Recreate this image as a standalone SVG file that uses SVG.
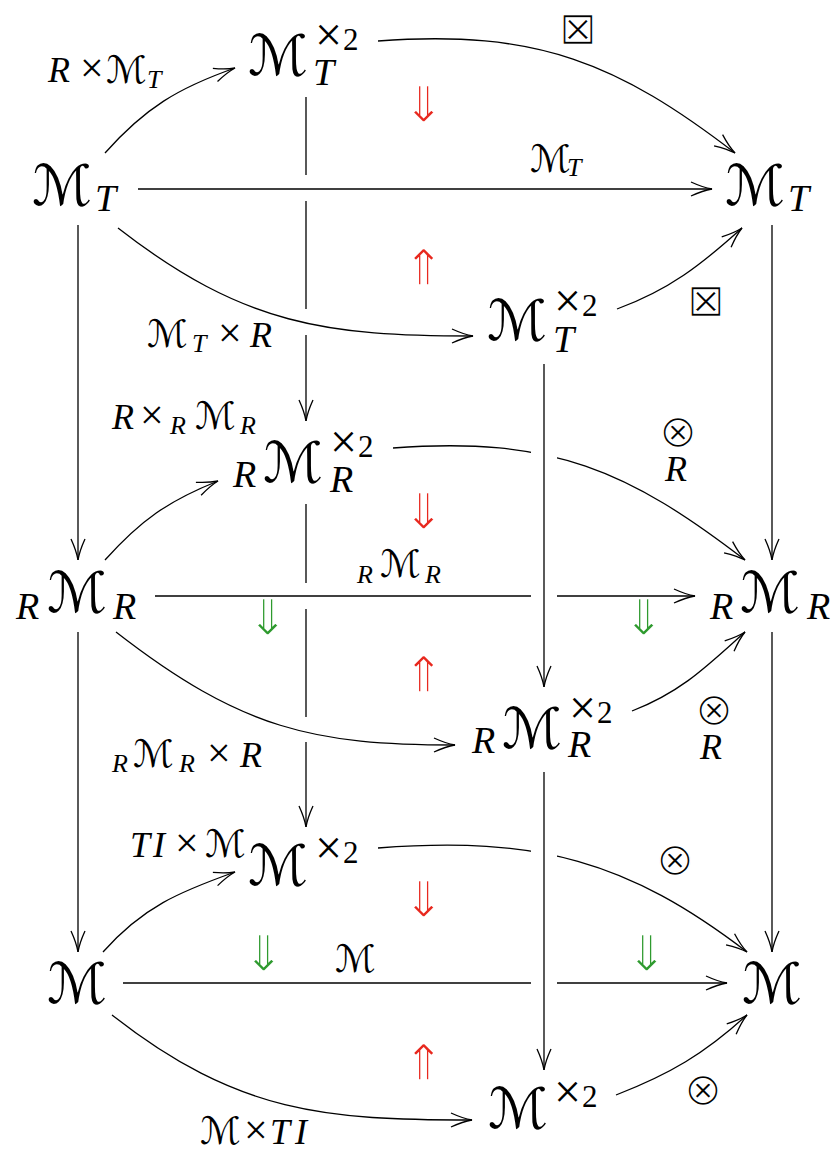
<svg xmlns="http://www.w3.org/2000/svg" width="838" height="1152" viewBox="0 0 838 1152">
<style>
.m{font-family:"DejaVu Sans",sans-serif;font-size:56px;fill:#000}
.ml{font-family:"DejaVu Sans",sans-serif;font-size:38px;fill:#000}
.i{font-family:"Liberation Serif",serif;font-style:italic;font-size:38px;fill:#000}
.il{font-family:"Liberation Serif",serif;font-style:italic;font-size:36px;fill:#000}
.s{font-family:"Liberation Serif",serif;font-style:italic;font-size:26px;fill:#000}
.x{font-family:"Liberation Serif",serif;font-size:42px;fill:#000}
.xs{font-family:"Liberation Serif",serif;font-size:48px;fill:#000}
.two{font-family:"Liberation Serif",serif;font-size:31px;fill:#000}
.op{font-family:"DejaVu Sans",sans-serif;font-size:46px;fill:#000;stroke:#fff;stroke-width:1.6;text-anchor:middle}
.red{font-family:"DejaVu Sans",sans-serif;font-size:50px;fill:#e8281e;stroke:#fff;stroke-width:1.6;text-anchor:middle}
.grn{font-family:"DejaVu Sans",sans-serif;font-size:50px;fill:#2e9a2e;stroke:#fff;stroke-width:1.6;text-anchor:middle}
.c{fill:none;stroke:#000;stroke-width:1.3}
.a{marker-end:url(#arr)}
</style>
<defs>
<marker id="arr" markerUnits="userSpaceOnUse" markerWidth="30" markerHeight="20" viewBox="-25 -10 30 20" refX="0" refY="0" orient="auto">
<path d="M-21,-7 Q-9,-1.5 0,0 Q-9,1.5 -21,7" fill="none" stroke="#000" stroke-width="1.3"/>
</marker>
<mask id="gap" maskUnits="userSpaceOnUse" x="0" y="0" width="838" height="1152">
<rect x="0" y="0" width="838" height="1152" fill="#fff"/>
<rect x="531" y="435" width="26" height="45" fill="#000"/>
<rect x="531" y="835" width="26" height="45" fill="#000"/>
</mask>
</defs>

<g id="connectors">
<path class="c a" d="M138,189 H712"/>
<path class="c" d="M155,596 H531"/>
<path class="c a" d="M557,596 H695"/>
<path class="c" d="M123,983 H531"/>
<path class="c a" d="M557,983 H727"/>
<path class="c a" d="M78,225 V560"/>
<path class="c a" d="M78,632 V952"/>
<path class="c a" d="M772,225 V560"/>
<path class="c a" d="M772,632 V952"/>
<path class="c" d="M306,97 V175 M306,201 V309"/>
<path class="c a" d="M306,335 V421"/>
<path class="c" d="M306,504 V583 M306,609 V717"/>
<path class="c a" d="M306,742 V827"/>
<path class="c a" d="M105,153 C145,108 178,88 235,68"/>
<path class="c a" d="M378,41 C538,29 619,64 735,153"/>
<path class="c a" d="M118,228 C244,326 328,336 473,336"/>
<path class="c a" d="M617,309 C669,290 701,265 742,228"/>
<path class="c a" d="M105,560 C141,520 168,501 218,481"/>
<path class="c a" d="M393,448 C553,436 629,471 745,560" mask="url(#gap)"/>
<path class="c a" d="M116,632 C242,730 315,745 455,745"/>
<path class="c a" d="M632,711 C681,692 706,667 745,632"/>
<path class="c a" d="M103,952 C143,907 179,892 235,872"/>
<path class="c a" d="M378,848 C538,836 628,861 747,952" mask="url(#gap)"/>
<path class="c a" d="M112,1015 C238,1114 327,1120 472,1120"/>
<path class="c a" d="M616,1095 C670,1074 704,1054 747,1015"/>
<path class="c a" d="M544,364 V687"/>
<path class="c a" d="M544,772 V1070"/>
</g>

<g id="labels">
<text><tspan class="il" x="48" y="82">R</tspan><tspan class="x" x="80" y="82">×</tspan><tspan class="ml" x="106" y="83">ℳ</tspan><tspan class="s" x="147" y="88">T</tspan></text>
<text><tspan class="ml" x="530" y="172">ℳ</tspan><tspan class="s" x="567" y="176">T</tspan></text>
<text class="op" x="578" y="44">⊠</text>
<text><tspan class="ml" x="147" y="347">ℳ</tspan><tspan class="s" x="192" y="352">T</tspan><tspan class="x" x="218" y="347">×</tspan><tspan class="il" x="250" y="347">R</tspan></text>
<text class="op" x="706" y="316">⊠</text>
<text><tspan class="il" x="112" y="429">R</tspan><tspan class="x" x="140" y="429">×</tspan><tspan class="s" x="170" y="434">R</tspan><tspan class="ml" x="195" y="429">ℳ</tspan><tspan class="s" x="240" y="434">R</tspan></text>
<text class="op" x="678" y="447">⊗</text>
<text class="il" x="665" y="481">R</text>
<text><tspan class="s" x="357" y="583">R</tspan><tspan class="ml" x="380" y="577">ℳ</tspan><tspan class="s" x="425" y="583">R</tspan></text>
<text><tspan class="s" x="112" y="772">R</tspan><tspan class="ml" x="133" y="767">ℳ</tspan><tspan class="s" x="179" y="772">R</tspan><tspan class="x" x="207" y="767">×</tspan><tspan class="il" x="240" y="767">R</tspan></text>
<text class="op" x="714" y="725">⊗</text>
<text class="il" x="700" y="759">R</text>
<text><tspan class="il" x="130" y="857">T</tspan><tspan class="il" x="153" y="857">I</tspan><tspan class="x" x="175" y="857">×</tspan><tspan class="ml" x="205" y="857">ℳ</tspan></text>
<text class="ml" x="335" y="972">ℳ</text>
<text class="op" x="675" y="875">⊗</text>
<text class="op" x="703" y="1105">⊗</text>
<text><tspan class="ml" x="200" y="1144">ℳ</tspan><tspan class="x" x="244" y="1144">×</tspan><tspan class="il" x="270" y="1144">T</tspan><tspan class="il" x="295" y="1144">I</tspan></text>
</g>

<g id="cells">
<text class="red" x="424" y="122">⇓</text>
<text class="red" x="424" y="285">⇑</text>
<text class="red" x="424" y="529">⇓</text>
<text class="red" x="424" y="692">⇑</text>
<text class="red" x="424" y="917">⇓</text>
<text class="red" x="424" y="1080">⇑</text>
<text class="grn" x="268" y="635">⇓</text>
<text class="grn" x="644" y="635">⇓</text>
<text class="grn" x="264" y="971">⇓</text>
<text class="grn" x="647" y="971">⇓</text>
</g>

<g id="n_MT_left"><text><tspan class="m" x="32" y="205">ℳ</tspan><tspan class="i" x="95" y="211">T</tspan></text></g>
<g id="n_MT2_top"><text><tspan class="m" x="248" y="75">ℳ</tspan><tspan class="xs" x="315" y="51">×</tspan><tspan class="two" x="343" y="50">2</tspan><tspan class="i" x="313" y="85">T</tspan></text></g>
<g id="n_MT_right"><text><tspan class="m" x="725" y="205">ℳ</tspan><tspan class="i" x="788" y="211">T</tspan></text></g>
<g id="n_MT2_bottom"><text><tspan class="m" x="487" y="340">ℳ</tspan><tspan class="xs" x="554" y="317">×</tspan><tspan class="two" x="582" y="316">2</tspan><tspan class="i" x="553" y="352">T</tspan></text></g>

<g id="n_RMR_left"><text><tspan class="i" x="16" y="619">R</tspan><tspan class="m" x="47" y="612">ℳ</tspan><tspan class="i" x="113" y="619">R</tspan></text></g>
<g id="n_RMR2_top"><text><tspan class="i" x="233" y="487">R</tspan><tspan class="m" x="263" y="482">ℳ</tspan><tspan class="xs" x="330" y="458">×</tspan><tspan class="two" x="358" y="457">2</tspan><tspan class="i" x="330" y="492">R</tspan></text></g>
<g id="n_RMR_right"><text><tspan class="i" x="710" y="619">R</tspan><tspan class="m" x="740" y="612">ℳ</tspan><tspan class="i" x="807" y="619">R</tspan></text></g>
<g id="n_RMR2_bottom"><text><tspan class="i" x="472" y="753">R</tspan><tspan class="m" x="502" y="748">ℳ</tspan><tspan class="xs" x="569" y="724">×</tspan><tspan class="two" x="597" y="723">2</tspan><tspan class="i" x="568" y="757">R</tspan></text></g>

<g id="n_M_left"><text class="m" x="47" y="1003">ℳ</text></g>
<g id="n_M2_top"><text><tspan class="m" x="248" y="885">ℳ</tspan><tspan class="xs" x="315" y="864">×</tspan><tspan class="two" x="343" y="863">2</tspan></text></g>
<g id="n_M_right"><text class="m" x="742" y="1003">ℳ</text></g>
<g id="n_M2_bottom"><text><tspan class="m" x="488" y="1128">ℳ</tspan><tspan class="xs" x="554" y="1108">×</tspan><tspan class="two" x="582" y="1107">2</tspan></text></g>
</svg>
